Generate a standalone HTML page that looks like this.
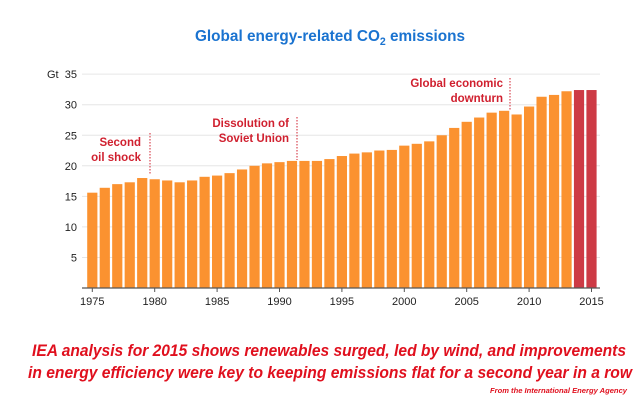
<!DOCTYPE html>
<html><head><meta charset="utf-8"><style>
html,body{margin:0;padding:0;background:#fff;width:640px;height:408px;overflow:hidden}
svg{display:block;font-family:"Liberation Sans",sans-serif}
</style></head><body>
<svg id="chart" width="640" height="408">
<text x="195" y="41" font-size="16" font-weight="bold" fill="#1a73d0" textLength="270" lengthAdjust="spacingAndGlyphs">Global energy-related CO<tspan font-size="11" dy="4">2</tspan><tspan dy="-4"> emissions</tspan></text>
<g id="grid"></g>
<g id="bars"></g>
<g id="axis"></g>
<g font-size="11.5" font-weight="bold" fill="#d0202f" text-anchor="end">
<text x="141" y="146">Second</text>
<text x="141" y="161">oil shock</text>
<line x1="150" y1="133" x2="150" y2="175" stroke="#d0202f" stroke-dasharray="1.5,1.5"/>
<text x="289" y="127">Dissolution of</text>
<text x="289" y="142">Soviet Union</text>
<line x1="297" y1="117" x2="297" y2="160" stroke="#d0202f" stroke-dasharray="1.5,1.5"/>
<text x="503" y="87">Global economic</text>
<text x="503" y="102">downturn</text>
<line x1="510" y1="78" x2="510" y2="110" stroke="#d0202f" stroke-dasharray="1.5,1.5"/>
</g>
<g font-style="italic" font-weight="bold" fill="#e0101e">
<text x="32" y="356" font-size="17" textLength="594" lengthAdjust="spacingAndGlyphs">IEA analysis for 2015 shows renewables surged, led by wind, and improvements</text>
<text x="28" y="378" font-size="17" textLength="604" lengthAdjust="spacingAndGlyphs">in energy efficiency were key to keeping emissions flat for a second year in a row</text>
<text x="490" y="393" font-size="7" textLength="137" lengthAdjust="spacingAndGlyphs">From the International Energy Agency</text>
</g>
</svg>
<script>
const years = [1975,1976,1977,1978,1979,1980,1981,1982,1983,1984,1985,1986,1987,1988,1989,1990,1991,1992,1993,1994,1995,1996,1997,1998,1999,2000,2001,2002,2003,2004,2005,2006,2007,2008,2009,2010,2011,2012,2013,2014,2015];
const emissions = [15.6,16.4,17.0,17.3,18.0,17.8,17.6,17.3,17.6,18.2,18.4,18.8,19.4,20.0,20.4,20.6,20.8,20.8,20.8,21.1,21.6,22.0,22.2,22.5,22.6,23.3,23.6,24.0,25.0,26.2,27.2,27.9,28.7,29.0,28.4,29.7,31.3,31.6,32.2,32.4,32.4];
const yTicks = [5,10,15,20,25,30,35];
const xTicks = [1975,1980,1985,1990,1995,2000,2005,2010,2015];
const highlightYears = [2014,2015];

const NS="http://www.w3.org/2000/svg";
const y0=288, pxPerUnit=6.11, x1975=92.3, pxPerYear=12.48, barW=10.2;
const yScale=v=>y0-v*pxPerUnit;
const xScale=yr=>x1975+(yr-1975)*pxPerYear;
function mk(tag,attrs,parent){const e=document.createElementNS(NS,tag);for(const k in attrs)e.setAttribute(k,attrs[k]);parent.appendChild(e);return e;}
const grid=document.getElementById('grid'),bars=document.getElementById('bars'),axis=document.getElementById('axis');
yTicks.forEach(t=>{
  const l=mk('line',{x1:82,x2:600,y1:yScale(t),y2:yScale(t),stroke:'#e6e6e6','stroke-width':1},grid);
  
  
  const tx=mk('text',{x:77,y:yScale(t)+4,'font-size':11,'text-anchor':'end',fill:'#222'},axis);
  tx.textContent=t;
  
  
});
const gt=mk('text',{x:47,y:yScale(35)+4,'font-size':11,fill:'#222'},axis);
gt.textContent='Gt';


years.forEach((yr,i)=>{
  const v=emissions[i];
  const r=mk('rect',{x:xScale(yr)-barW/2,y:yScale(v),width:barW,height:y0-yScale(v),fill:highlightYears.includes(yr)?'#cd3a45':'#fb9230'},bars);
  
  
});
const bl=mk('line',{x1:82,x2:600,y1:y0,y2:y0,stroke:'#555','stroke-width':1.2},axis);


xTicks.forEach(t=>{
  const tk=mk('line',{x1:xScale(t),x2:xScale(t),y1:y0,y2:y0+4,stroke:'#555'},axis);
  
  
  const tx=mk('text',{x:xScale(t),y:305,'font-size':11,'text-anchor':'middle',fill:'#222'},axis);
  tx.textContent=t;
  
  
});
</script>
</body></html>
